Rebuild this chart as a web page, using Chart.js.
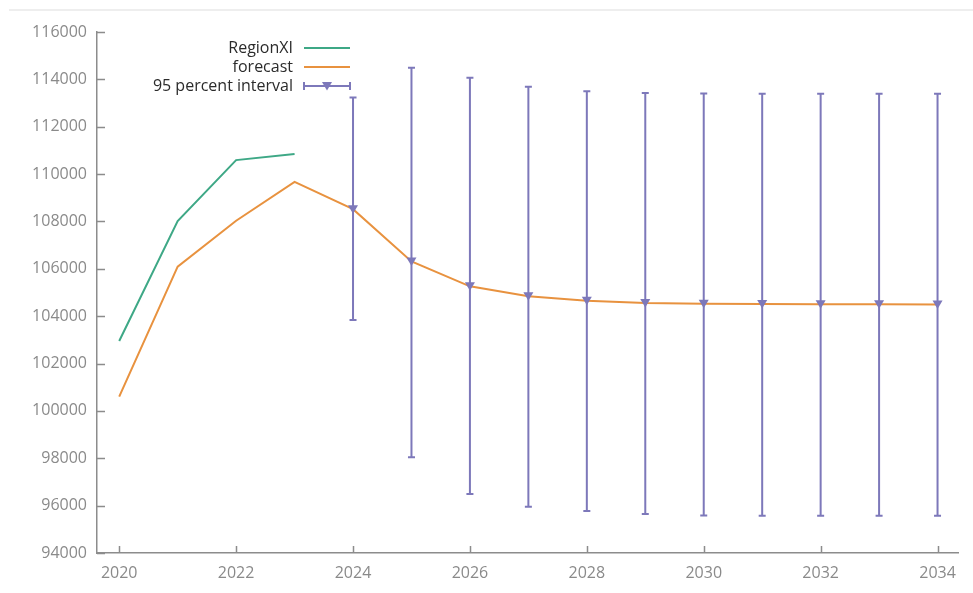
<!DOCTYPE html>
<html>
<head>
<meta charset="utf-8">
<title>RegionXI forecast</title>
<script src="https://cdn.jsdelivr.net/npm/chart.js@4.4.1/dist/chart.umd.min.js"></script>
<style>
  html, body { margin: 0; padding: 0; background: #fff; }
  #wrap { position: relative; width: 973px; height: 593px; }
  #rule { position: absolute; left: 9px; right: 0; top: 9px; height: 2px; background: #eeeeee; }
  canvas { position: absolute; left: 0; top: 0; }
</style>
</head>
<body>
<div id="wrap">
  <div id="rule"></div>
  <canvas id="forecast-chart" width="973" height="593"></canvas>
</div>
<script>
// observed series and forecast, one value per year
const years = [2020, 2021, 2022, 2023, 2024, 2025, 2026, 2027, 2028, 2029, 2030, 2031, 2032, 2033, 2034];
const regionXI = [102950, 108020, 110590, 110850];
const forecast = [100600, 106090, 108030, 109670, 108520, 106310, 105260, 104840, 104650, 104560, 104530, 104510, 104500, 104500, 104490];

// 95 percent interval from 2024 on
const intervalYears = [2024, 2025, 2026, 2027, 2028, 2029, 2030, 2031, 2032, 2033, 2034];
const intervalUpper = [113230, 114490, 114070, 113690, 113500, 113420, 113400, 113390, 113390, 113390, 113390];
const intervalLower = [103840, 98040, 96490, 95950, 95770, 95650, 95580, 95570, 95570, 95570, 95570];

const xTickLabels = [2020, 2022, 2024, 2026, 2028, 2030, 2032, 2034];
const yTickLabels = [94000, 96000, 98000, 100000, 102000, 104000, 106000, 108000, 110000, 112000, 114000, 116000];

const GREEN = "#3ea886";
const ORANGE = "#e8923f";
const PURPLE = "#7d78ba";
const AXIS = "#8c8c8c";
const FONT = "'Open Sans', sans-serif";

function pts(xs, ys) {
  return ys.map((y, i) => ({ x: xs[i], y: y }));
}

const forecastAt = intervalYears.map(y => forecast[years.indexOf(y)]);

function downTriangle(ctx, cx, cy) {
  ctx.beginPath();
  ctx.moveTo(cx - 5, cy - 4);
  ctx.lineTo(cx + 5, cy - 4);
  ctx.lineTo(cx, cy + 4.5);
  ctx.closePath();
  ctx.fill();
}

// error bars of the interval, under the lines
const intervalBars = {
  id: "intervalBars",
  beforeDatasetsDraw(chart) {
    const { ctx, scales: { x, y } } = chart;
    ctx.save();
    ctx.strokeStyle = PURPLE;
    ctx.lineWidth = 2;
    intervalYears.forEach((yr, i) => {
      const px = x.getPixelForValue(yr);
      const top = y.getPixelForValue(intervalUpper[i]);
      const bot = y.getPixelForValue(intervalLower[i]);
      ctx.beginPath();
      ctx.moveTo(px, top);
      ctx.lineTo(px, bot);
      ctx.moveTo(px - 3.5, top);
      ctx.lineTo(px + 3.5, top);
      ctx.moveTo(px - 3.5, bot);
      ctx.lineTo(px + 3.5, bot);
      ctx.stroke();
    });
    ctx.restore();
  },
  // triangle markers on top of the forecast line
  afterDatasetsDraw(chart) {
    const { ctx, scales: { x, y } } = chart;
    ctx.save();
    ctx.fillStyle = PURPLE;
    intervalYears.forEach((yr, i) => {
      downTriangle(ctx, x.getPixelForValue(yr), y.getPixelForValue(forecastAt[i]));
    });
    ctx.restore();
  }
};

// inward tick marks and the key in the upper left
const frameAndKey = {
  id: "frameAndKey",
  afterDraw(chart) {
    const { ctx, chartArea: a, scales: { x, y } } = chart;
    ctx.save();
    ctx.strokeStyle = AXIS;
    ctx.lineWidth = 1.5;
    ctx.beginPath();
    xTickLabels.forEach(v => {
      const px = Math.round(x.getPixelForValue(v)) + 0.5;
      ctx.moveTo(px, a.bottom);
      ctx.lineTo(px, a.bottom - 7);
    });
    yTickLabels.forEach(v => {
      const py = Math.round(y.getPixelForValue(v)) + 0.5;
      ctx.moveTo(a.left, py);
      ctx.lineTo(a.left + 8, py);
    });
    ctx.stroke();

    const rows = [
      { label: "RegionXI", color: GREEN },
      { label: "forecast", color: ORANGE },
      { label: "95 percent interval", color: PURPLE, bar: true }
    ];
    ctx.font = "16px " + FONT;
    ctx.textAlign = "right";
    ctx.textBaseline = "middle";
    rows.forEach((r, i) => {
      const cy = 48 + i * 19;
      ctx.fillStyle = "#2b2b2b";
      ctx.fillText(r.label, 293, cy);
      ctx.strokeStyle = r.color;
      ctx.lineWidth = 2;
      ctx.beginPath();
      ctx.moveTo(304, cy);
      ctx.lineTo(350, cy);
      if (r.bar) {
        ctx.moveTo(304, cy - 4);
        ctx.lineTo(304, cy + 4);
        ctx.moveTo(350, cy - 4);
        ctx.lineTo(350, cy + 4);
      }
      ctx.stroke();
      if (r.bar) {
        ctx.fillStyle = PURPLE;
        downTriangle(ctx, 327, cy);
      }
    });
    ctx.restore();
  }
};

new Chart(document.getElementById("forecast-chart").getContext("2d"), {
  type: "line",
  data: {
    datasets: [
      {
        label: "RegionXI",
        data: pts(years, regionXI),
        borderColor: GREEN,
        borderWidth: 2,
        pointRadius: 0,
        tension: 0
      },
      {
        label: "forecast",
        data: pts(years, forecast),
        borderColor: ORANGE,
        borderWidth: 2,
        pointRadius: 0,
        tension: 0
      }
    ]
  },
  options: {
    responsive: false,
    animation: false,
    devicePixelRatio: 1,
    layout: { padding: { left: 0, top: 32, right: 15, bottom: 0 } },
    plugins: { legend: { display: false }, tooltip: { enabled: false } },
    scales: {
      x: {
        type: "linear",
        min: 2019.62,
        max: 2034.35,
        afterFit: s => { s.height = 40; },
        afterBuildTicks: s => { s.ticks = xTickLabels.map(v => ({ value: v })); },
        grid: { display: false, drawTicks: false },
        border: { display: true, color: AXIS, width: 1.5 },
        ticks: {
          padding: 11,
          color: "#8a8a8a",
          font: { family: FONT, size: 16 },
          callback: v => String(v)
        }
      },
      y: {
        min: 94000,
        max: 116000,
        afterFit: s => { s.width = 97; },
        afterBuildTicks: s => { s.ticks = yTickLabels.map(v => ({ value: v })); },
        grid: { display: false, drawTicks: false },
        border: { display: true, color: AXIS, width: 1.5 },
        ticks: {
          padding: 10,
          color: "#8a8a8a",
          font: { family: FONT, size: 16 },
          callback: v => String(v)
        }
      }
    }
  },
  plugins: [intervalBars, frameAndKey]
});
</script>
</body>
</html>
